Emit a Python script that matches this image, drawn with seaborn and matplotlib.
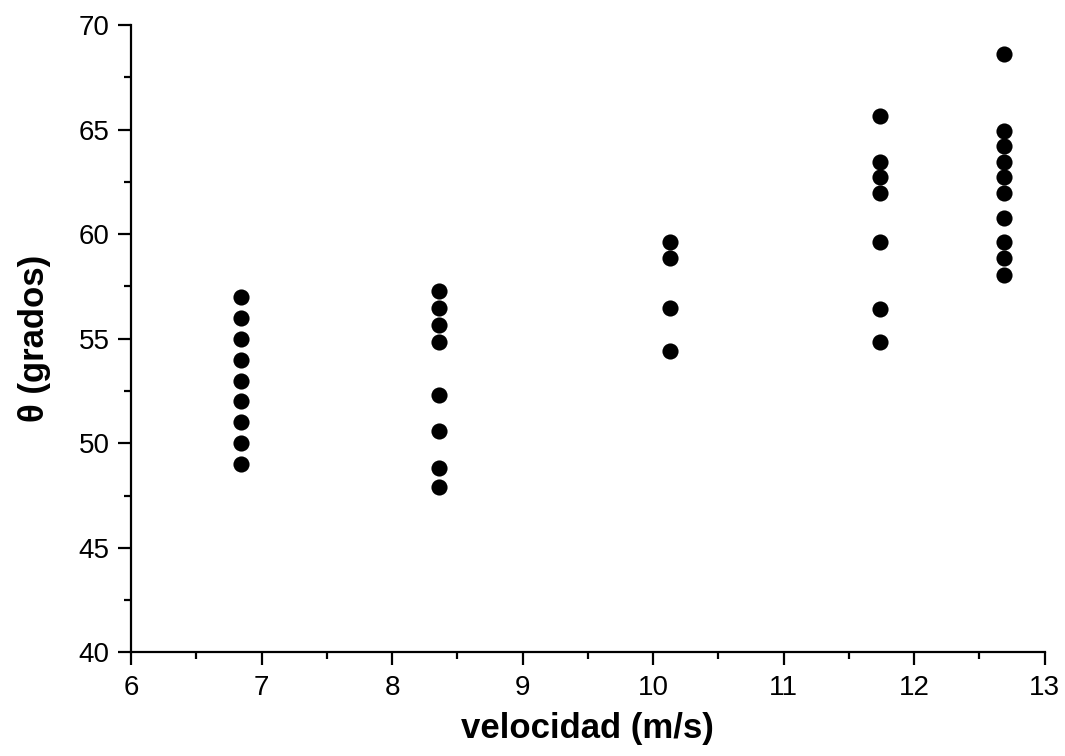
import seaborn as sns
import pandas as pd
from matplotlib import pyplot as plt
from matplotlib.ticker import MultipleLocator

# velocidad (m/s) groups and measured angles
vel_1 = 6.84
theta_1 = [57.0, 56.0, 55.0, 54.0, 53.0, 52.0, 51.0, 50.0, 49.0]
vel_2 = 8.36
theta_2 = [57.27, 56.46, 55.65, 54.83, 52.30, 50.57, 48.80, 47.89]
vel_3 = 10.13
theta_3 = [59.62, 58.85, 56.46, 54.40]
vel_4 = 11.74
theta_4 = [65.66, 63.43, 62.71, 61.95, 59.63, 56.44, 54.82]
vel_5 = 12.69
theta_5 = [68.61, 64.94, 64.21, 63.43, 62.71, 61.95, 60.75, 59.63, 58.84, 58.04]

rows = []
for v, ts in [(vel_1, theta_1), (vel_2, theta_2), (vel_3, theta_3), (vel_4, theta_4), (vel_5, theta_5)]:
    for t in ts:
        rows.append({'vel': v, 'theta': t})
df = pd.DataFrame(rows)

sns.set_style('ticks')
plt.rcParams['font.family'] = ['Liberation Sans', 'DejaVu Sans']
plt.rcParams['text.color'] = 'black'
plt.rcParams['axes.labelcolor'] = 'black'

fig, ax = plt.subplots(figsize=(10.65, 7.56), dpi=100)
fig.subplots_adjust(left=0.123, right=0.981, top=0.967, bottom=0.137)

sns.scatterplot(data=df, x='vel', y='theta', ax=ax, color='black', s=135,
                edgecolor='black', linewidth=0)

ax.set_xlim(6, 13)
ax.set_ylim(40, 70)
ax.xaxis.set_major_locator(MultipleLocator(1))
ax.xaxis.set_minor_locator(MultipleLocator(0.5))
ax.yaxis.set_major_locator(MultipleLocator(5))
ax.yaxis.set_minor_locator(MultipleLocator(2.5))

sns.despine(ax=ax)
for sp in ['left', 'bottom']:
    ax.spines[sp].set_linewidth(1.6)
    ax.spines[sp].set_color('black')

ax.tick_params(which='major', direction='out', length=9.5, width=1.6, labelsize=20, colors='black')
ax.tick_params(axis='x', which='major', pad=7)
ax.tick_params(axis='y', which='major', pad=6)
ax.tick_params(which='minor', direction='out', length=5, width=1.6, colors='black')

ax.set_xlabel('velocidad (m/s)', fontsize=25, fontweight='bold', labelpad=8)
ax.set_ylabel('θ (grados)', fontsize=25, fontweight='bold', labelpad=20)

fig.savefig('out.png', dpi=100)
